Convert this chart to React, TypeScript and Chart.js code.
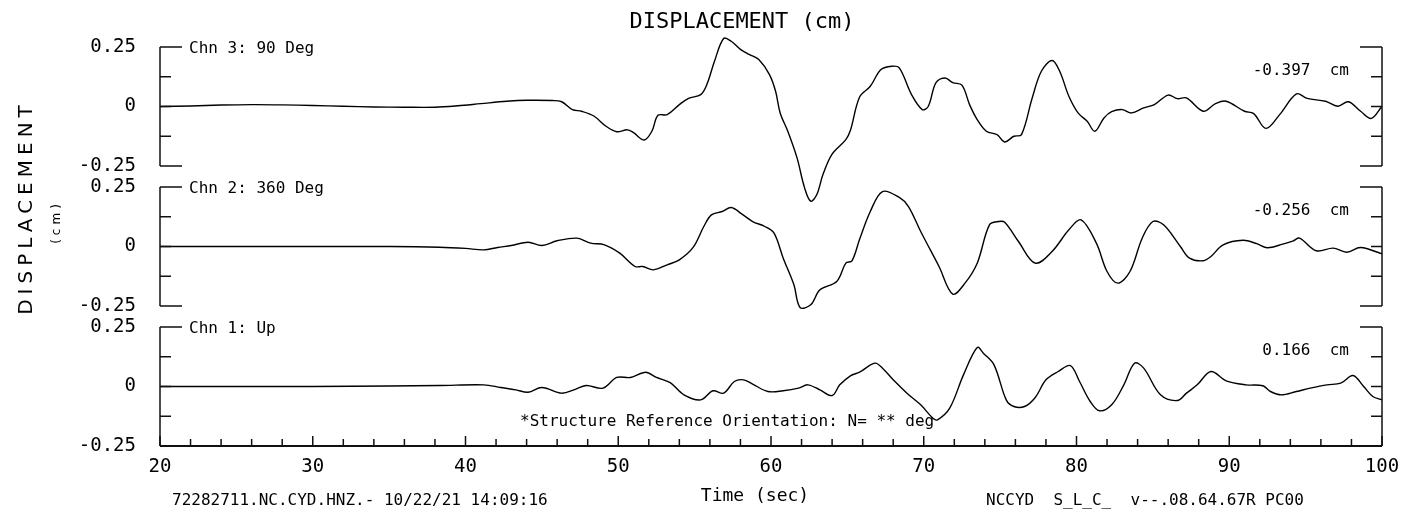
import React, { useEffect, useRef } from 'react';
import { Chart, registerables } from 'chart.js';

Chart.register(...registerables);

// ---------- data ----------
const xTickValues = [20, 30, 40, 50, 60, 70, 80, 90, 100];
const yTickValues = [-0.25, 0, 0.25];
const bracketTickValues = [0.25, 0.125, 0, -0.125, -0.25];

const channelNames = ['Chn 3: 90 Deg', 'Chn 2: 360 Deg', 'Chn 1: Up'];
const peakLabels = ['-0.397  cm', '-0.256  cm', '0.166  cm'];

const chartTitle = 'DISPLACEMENT (cm)';
const xTitle = 'Time (sec)';
const yTitle = 'DISPLACEMENT';
const yUnit = '(cm)';
const noteText = '*Structure Reference Orientation: N= ** deg';
const footerLeft = '72282711.NC.CYD.HNZ.- 10/22/21 14:09:16';
const footerRight = 'NCCYD  S_L_C_  v--.08.64.67R PC00';

const chn3Time = [20, 22, 24, 26, 28, 30, 32, 34, 36, 38, 39.5, 41, 42.7, 44, 45.7, 46.3, 47.0, 47.6, 48.4, 49.2, 49.9, 50.6, 51.0, 51.7, 52.2, 52.6, 53.2, 54.0, 54.6, 55.4, 55.8, 56.3, 56.9, 57.4, 58.0, 58.6, 59.2, 59.9, 60.3, 60.6, 61.1, 61.7, 62.2, 62.6, 63.0, 63.4, 64.0, 64.9, 65.2, 65.8, 66.5, 67.2, 67.9, 68.4, 69.2, 69.9, 70.3, 70.8, 71.4, 71.9, 72.5, 73.0, 73.5, 74.1, 74.8, 75.3, 75.9, 76.4, 77.1, 77.7, 78.4, 78.9, 79.5, 80.1, 80.7, 81.2, 81.8, 82.3, 83.0, 83.6, 84.4, 85.1, 86.0, 86.6, 87.2, 88.3, 89.1, 89.8, 91.0, 91.6, 92.4, 93.3, 94.4, 95.1, 96.3, 97.1, 97.8, 98.6, 99.3, 100];
const chn3Disp = [0, 0.002, 0.006, 0.008, 0.007, 0.004, 0.001, -0.002, -0.003, -0.003, 0.003, 0.012, 0.022, 0.026, 0.025, 0.02, -0.013, -0.02, -0.04, -0.083, -0.106, -0.098, -0.11, -0.141, -0.104, -0.037, -0.034, 0.008, 0.034, 0.05, 0.092, 0.19, 0.286, 0.274, 0.24, 0.218, 0.197, 0.134, 0.064, -0.027, -0.104, -0.215, -0.342, -0.398, -0.37, -0.286, -0.2, -0.139, -0.1, 0.04, 0.085, 0.155, 0.169, 0.162, 0.05, -0.013, 0.001, 0.1, 0.12, 0.1, 0.09, 0.008, -0.055, -0.104, -0.118, -0.149, -0.125, -0.118, 0.036, 0.148, 0.193, 0.148, 0.043, -0.027, -0.062, -0.104, -0.048, -0.022, -0.013, -0.027, -0.006, 0.008, 0.048, 0.033, 0.036, -0.02, 0.012, 0.022, -0.02, -0.03, -0.092, -0.034, 0.053, 0.034, 0.022, 0.001, 0.02, -0.02, -0.05, 0.001];

const chn2Time = [20, 25, 30, 35, 38.3, 40, 41.2, 42.1, 43.0, 44.1, 45.0, 46.0, 47.3, 48.2, 49.1, 50.1, 51.1, 51.6, 52.3, 53.2, 54.0, 54.9, 55.6, 56.1, 56.8, 57.4, 58.1, 58.8, 59.6, 60.2, 60.8, 61.5, 61.9, 62.6, 63.2, 64.3, 64.9, 65.3, 65.8, 66.5, 67.3, 68.4, 69.0, 69.8, 71.0, 71.9, 72.7, 73.5, 74.3, 74.9, 75.3, 76.2, 77.3, 78.4, 79.5, 80.3, 81.3, 82.0, 82.7, 83.5, 84.3, 85.0, 85.7, 86.8, 87.4, 88.3, 88.8, 89.6, 90.9, 91.8, 92.5, 93.5, 94.2, 94.6, 95.7, 96.8, 97.7, 98.6, 100];
const chn2Disp = [0, 0, 0, 0, -0.003, -0.008, -0.014, -0.004, 0.004, 0.018, 0.004, 0.024, 0.035, 0.014, 0.007, -0.028, -0.084, -0.084, -0.098, -0.077, -0.056, -0.004, 0.084, 0.133, 0.147, 0.164, 0.136, 0.105, 0.084, 0.056, -0.049, -0.161, -0.256, -0.245, -0.182, -0.147, -0.07, -0.06, 0.03, 0.147, 0.231, 0.206, 0.168, 0.063, -0.084, -0.2, -0.154, -0.07, 0.091, 0.105, 0.102, 0.021, -0.07, -0.021, 0.07, 0.112, 0.014, -0.105, -0.154, -0.105, 0.035, 0.105, 0.091, 0, -0.049, -0.06, -0.042, 0.007, 0.026, 0.012, -0.005, 0.01, 0.024, 0.035, -0.018, -0.007, -0.024, -0.004, -0.031];

const chn1Time = [20, 25, 30, 35, 38.3, 41.2, 42.3, 43.3, 44.1, 45.0, 46.3, 47.1, 47.9, 49.0, 49.9, 50.8, 51.8, 52.5, 53.4, 54.3, 55.4, 56.2, 56.9, 57.6, 58.2, 58.8, 59.8, 60.8, 61.8, 62.4, 63.2, 64.0, 64.5, 65.2, 65.8, 66.8, 67.3, 68.0, 68.9, 69.8, 70.6, 70.9, 71.7, 72.6, 73.5, 73.9, 74.6, 75.4, 75.9, 76.6, 77.3, 78.0, 78.8, 79.6, 80.2, 80.9, 81.5, 82.3, 83.1, 83.8, 84.4, 85.5, 86.6, 87.2, 87.9, 88.8, 89.8, 91.1, 92.2, 92.7, 93.4, 94.4, 95.3, 96.4, 97.3, 98.1, 98.8, 99.4, 100];
const chn1Disp = [0, 0, 0, 0.002, 0.004, 0.007, -0.004, -0.014, -0.024, -0.004, -0.028, -0.014, 0.004, -0.007, 0.038, 0.038, 0.06, 0.038, 0.016, -0.035, -0.056, -0.018, -0.028, 0.021, 0.028, 0.01, -0.021, -0.018, -0.007, 0.007, -0.014, -0.038, 0.007, 0.045, 0.06, 0.098, 0.077, 0.028, -0.028, -0.077, -0.133, -0.14, -0.091, 0.049, 0.164, 0.14, 0.091, -0.056, -0.084, -0.084, -0.046, 0.028, 0.063, 0.088, 0.021, -0.063, -0.102, -0.077, 0.007, 0.098, 0.077, -0.035, -0.059, -0.028, 0.007, 0.063, 0.024, 0.007, 0.003, -0.021, -0.035, -0.021, -0.007, 0.007, 0.014, 0.046, 0, -0.042, -0.056];

// ---------- layout constants ----------
const W = 1414;
const H = 514;
const PANEL_PX = 119;
const GAP_PX = 21;
const UNIT_PER_PX = 0.5 / PANEL_PX;
const HALF_GAP = (GAP_PX / 2) * UNIT_PER_PX;
const MONO = 'DejaVu Sans Mono';

const axisIds = ['y3', 'y2', 'y1'];

function toPoints(t: number[], v: number[]) {
  return t.map((x, i) => ({ x, y: v[i] }));
}

function yAxis(min: number, max: number, weight: number, stackWeight: number) {
  return {
    type: 'linear' as const,
    position: 'left' as const,
    stack: 'panels',
    stackWeight,
    weight,
    min,
    max,
    afterFit: (s: any) => {
      s.width = 160;
    },
    afterBuildTicks: (s: any) => {
      s.ticks = yTickValues.map((value) => ({ value }));
    },
    grid: { display: false, drawTicks: false },
    border: { display: false },
    ticks: {
      autoSkip: false,
      padding: 24,
      color: '#000',
      font: { family: MONO, size: 19 },
      callback: (v: any) => String(v),
    },
  };
}

const overlayPlugin = {
  id: 'seismoOverlay',
  afterDatasetsDraw(chart: any) {
    const { ctx, chartArea } = chart;
    const L = chartArea.left;
    const R = chartArea.right;
    ctx.save();
    ctx.strokeStyle = '#111';
    ctx.lineWidth = 1.5;
    axisIds.forEach((id) => {
      const s = chart.scales[id];
      const top = s.getPixelForValue(0.25);
      const bot = s.getPixelForValue(-0.25);
      ctx.beginPath();
      ctx.moveTo(L, top);
      ctx.lineTo(L, bot);
      ctx.moveTo(R, top);
      ctx.lineTo(R, bot);
      bracketTickValues.forEach((v) => {
        const y = s.getPixelForValue(v);
        const len = Math.abs(v) === 0.25 ? 22 : 11;
        ctx.moveTo(L, y);
        ctx.lineTo(L + len, y);
        ctx.moveTo(R, y);
        ctx.lineTo(R - len, y);
      });
      ctx.stroke();
    });

    // time axis
    const xs = chart.scales.x;
    const base = chart.scales.y1.getPixelForValue(-0.25);
    ctx.lineWidth = 2;
    ctx.beginPath();
    ctx.moveTo(L, base);
    ctx.lineTo(R, base);
    ctx.stroke();
    ctx.lineWidth = 1.5;
    ctx.beginPath();
    for (let t = xs.min; t <= xs.max + 1e-9; t += 2) {
      const x = xs.getPixelForValue(t);
      const len = Math.abs(t % 10) < 1e-9 ? 10 : 7;
      ctx.moveTo(x, base);
      ctx.lineTo(x, base - len);
    }
    ctx.stroke();

    // texts
    ctx.fillStyle = '#000';
    ctx.textBaseline = 'middle';

    ctx.font = `22px ${MONO}`;
    ctx.textAlign = 'center';
    ctx.fillText(chartTitle, 742, 22);

    ctx.font = `16px ${MONO}`;
    axisIds.forEach((id, i) => {
      const s = chart.scales[id];
      const top = s.getPixelForValue(0.25);
      ctx.textAlign = 'left';
      ctx.fillText(channelNames[i], 189, top + 2);
      ctx.textAlign = 'right';
      ctx.fillText(peakLabels[i], 1349, top + 24);
    });

    ctx.textAlign = 'left';
    ctx.fillText(noteText, 520, 422);
    ctx.fillText(footerLeft, 172, 501);
    ctx.fillText(footerRight, 986, 501);

    ctx.font = `18px ${MONO}`;
    ctx.textAlign = 'center';
    ctx.fillText(xTitle, 755, 496);

    // rotated y titles
    ctx.save();
    ctx.translate(27, 210);
    ctx.rotate(-Math.PI / 2);
    ctx.font = '20px "DejaVu Sans"';
    (ctx as any).letterSpacing = '5px';
    ctx.textAlign = 'center';
    ctx.fillText(yTitle, 2.5, 0);
    ctx.restore();

    ctx.save();
    ctx.translate(57, 224);
    ctx.rotate(-Math.PI / 2);
    ctx.font = '12px "DejaVu Sans"';
    (ctx as any).letterSpacing = '4px';
    ctx.textAlign = 'center';
    ctx.fillText(yUnit, 2, 0);
    ctx.restore();

    ctx.restore();
  },
};

export default function App() {
  const canvasRef = useRef<HTMLCanvasElement | null>(null);

  useEffect(() => {
    const canvas = canvasRef.current;
    if (!canvas) return;
    const lineStyle = {
      borderColor: '#000',
      borderWidth: 1.4,
      pointRadius: 0,
      tension: 0.35,
      fill: false,
      clip: false as any,
    };
    const chart = new Chart(canvas, {
      type: 'line',
      data: {
        datasets: [
          { ...lineStyle, label: channelNames[0], data: toPoints(chn3Time, chn3Disp), yAxisID: 'y3' },
          { ...lineStyle, label: channelNames[1], data: toPoints(chn2Time, chn2Disp), yAxisID: 'y2' },
          { ...lineStyle, label: channelNames[2], data: toPoints(chn1Time, chn1Disp), yAxisID: 'y1' },
        ],
      },
      options: {
        animation: false,
        responsive: false,
        devicePixelRatio: 1,
        events: [],
        layout: { padding: { left: 0, right: 32, top: 47, bottom: 0 } },
        plugins: {
          legend: { display: false },
          title: { display: false },
          tooltip: { enabled: false },
        },
        scales: {
          x: {
            type: 'linear',
            min: xTickValues[0],
            max: xTickValues[xTickValues.length - 1],
            afterFit: (s: any) => {
              s.height = 68;
            },
            afterBuildTicks: (s: any) => {
              s.ticks = xTickValues.map((value) => ({ value }));
            },
            grid: { display: false, drawTicks: false },
            border: { display: false },
            ticks: {
              autoSkip: false,
              maxRotation: 0,
              padding: 10,
              color: '#000',
              font: { family: MONO, size: 19 },
            },
          },
          y3: yAxis(-0.25 - HALF_GAP, 0.25, 3, PANEL_PX + GAP_PX / 2),
          y2: yAxis(-0.25 - HALF_GAP, 0.25 + HALF_GAP, 2, PANEL_PX + GAP_PX),
          y1: yAxis(-0.25, 0.25 + HALF_GAP, 1, PANEL_PX + GAP_PX / 2),
        } as any,
      },
      plugins: [overlayPlugin],
    });
    return () => chart.destroy();
  }, []);

  return (
    <div style={{ position: 'absolute', left: 0, top: 0, width: W, height: H, background: '#fff' }}>
      <canvas ref={canvasRef} width={W} height={H} style={{ display: 'block' }} />
    </div>
  );
}
